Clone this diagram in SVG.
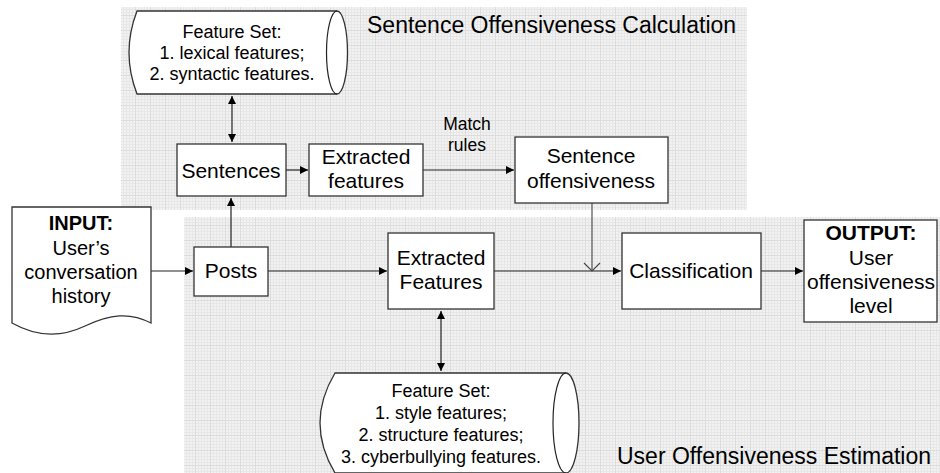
<svg xmlns="http://www.w3.org/2000/svg" width="940" height="473" viewBox="0 0 940 473">
<style>
.box{fill:#fff;stroke:#333;stroke-width:1.3}
.ln{fill:none;stroke:#222;stroke-width:1.2}
.t{font-family:"Liberation Sans",Arial,sans-serif;fill:#000;text-anchor:middle}
.s15{font-size:18px}
.s17{font-size:17.5px}
.s18{font-size:21px}
.s20{font-size:20px}
.b{font-weight:bold}
.lbl{font-family:"Liberation Sans",Arial,sans-serif;font-size:23px;fill:#000}
</style>
<defs>
<pattern id="grid" width="15" height="15" patternUnits="userSpaceOnUse">
<rect width="15" height="15" fill="#f2f2f2"/>
<path d="M0 0.5H15M0 3.5H15M0 6.5H15M0 9.5H15M0 12.5H15M0.5 0V15M3.5 0V15M6.5 0V15M9.5 0V15M12.5 0V15" stroke="#e7e7e7" stroke-width="1"/>
<path d="M0 0.5H15M0.5 0V15" stroke="#dcdcdc" stroke-width="1"/>
</pattern>
<marker id="ah" markerWidth="10" markerHeight="10" refX="9" refY="5" orient="auto" markerUnits="userSpaceOnUse">
<path d="M1 1L9 5L1 9Z" fill="#000"/>
</marker>
<marker id="ahs" markerWidth="10" markerHeight="10" refX="1" refY="5" orient="auto" markerUnits="userSpaceOnUse">
<path d="M9 1L1 5L9 9Z" fill="#000"/>
</marker>
<marker id="open" markerWidth="20" markerHeight="14" refX="10" refY="13" orient="0" markerUnits="userSpaceOnUse">
<path d="M2 5L10 13L18 5" fill="none" stroke="#444" stroke-width="1.1"/>
</marker>
</defs>
<rect width="940" height="473" fill="#fff"/>
<g id="panels">
<rect x="121" y="7" width="626" height="203" fill="url(#grid)"/>
<rect x="184" y="217" width="756" height="256" fill="url(#grid)"/>
<text class="lbl" x="367" y="33">Sentence Offensiveness Calculation</text>
<text class="lbl" x="617" y="464">User Offensiveness Estimation</text>
</g>
<g id="connectors">
<line class="ln" x1="232" y1="96" x2="232" y2="142" marker-start="url(#ahs)" marker-end="url(#ah)"/>
<line class="ln" x1="286" y1="170" x2="308" y2="170" marker-end="url(#ah)"/>
<line class="ln" x1="423" y1="170" x2="514" y2="170" marker-end="url(#ah)"/>
<line class="ln" x1="231" y1="247" x2="231" y2="198" marker-end="url(#ah)"/>
<line class="ln" x1="151" y1="271" x2="193" y2="271" marker-end="url(#ah)"/>
<line class="ln" x1="268" y1="271" x2="387" y2="271" marker-end="url(#ah)"/>
<line class="ln" x1="494" y1="271" x2="621" y2="271" marker-end="url(#ah)"/>
<line class="ln" x1="761" y1="271" x2="803" y2="271" marker-end="url(#ah)"/>
<line class="ln" x1="441" y1="311" x2="441" y2="371" marker-start="url(#ahs)" marker-end="url(#ah)"/>
<line x1="592" y1="203" x2="592" y2="271" stroke="#444" stroke-width="1.1" marker-end="url(#open)"/>
<text class="t s17" x="467" y="130">Match</text>
<text class="t s17" x="467" y="151">rules</text>
</g>
<g id="featureset1">
<path class="box" d="M137 11H337A10.5 41.5 0 0 1 337 94H137Q121 52.5 137 11Z"/>
<path class="ln" d="M337 11A10.5 41.5 0 0 0 337 94" stroke="#333"/>
<text class="t s15" x="232" y="38">Feature Set:</text>
<text class="t s15" x="232" y="59">1. lexical features;</text>
<text class="t s15" x="232" y="80">2. syntactic features.</text>
</g>
<g id="sentences">
<rect class="box" x="177" y="144" width="109" height="52"/>
<text class="t s18" x="231" y="178">Sentences</text>
</g>
<g id="extracted1">
<rect class="box" x="309" y="144" width="114" height="52"/>
<text class="t s18" x="366" y="164">Extracted</text>
<text class="t s18" x="366" y="188">features</text>
</g>
<g id="sentoff">
<rect class="box" x="515" y="137" width="153" height="66"/>
<text class="t s18" x="591" y="163">Sentence</text>
<text class="t s18" x="591" y="188">offensiveness</text>
</g>
<g id="input">
<path class="box" d="M12 207H151V323C130 312 110 314 85 326C60 338 35 336 12 323Z"/>
<text class="t s20 b" x="81" y="230">INPUT:</text>
<text class="t s20" x="81" y="255">User’s</text>
<text class="t s20" x="81" y="279">conversation</text>
<text class="t s20" x="81" y="303">history</text>
</g>
<g id="posts">
<rect class="box" x="194" y="247" width="74" height="49"/>
<text class="t s18" x="231" y="278">Posts</text>
</g>
<g id="extracted2">
<rect class="box" x="388" y="233" width="106" height="76"/>
<text class="t s18" x="441" y="265">Extracted</text>
<text class="t s18" x="441" y="289">Features</text>
</g>
<g id="classification">
<rect class="box" x="622" y="233" width="139" height="76"/>
<text class="t s18" x="691" y="278">Classification</text>
</g>
<g id="output">
<rect class="box" x="804" y="220" width="133" height="102"/>
<text class="t s18 b" x="871" y="240">OUTPUT:</text>
<text class="t s18" x="871" y="265">User</text>
<text class="t s18" x="871" y="289">offensiveness</text>
<text class="t s18" x="871" y="313">level</text>
</g>
<g id="featureset2">
<path class="box" d="M335 373H566A13 50 0 0 1 566 473H335Q305 423 335 373Z"/>
<path class="ln" d="M566 373A13 50 0 0 0 566 473" stroke="#333"/>
<text class="t s15" x="441" y="397">Feature Set:</text>
<text class="t s15" x="441" y="419">1. style features;</text>
<text class="t s15" x="441" y="441">2. structure features;</text>
<text class="t s15" x="441" y="463">3. cyberbullying features.</text>
</g>
</svg>
